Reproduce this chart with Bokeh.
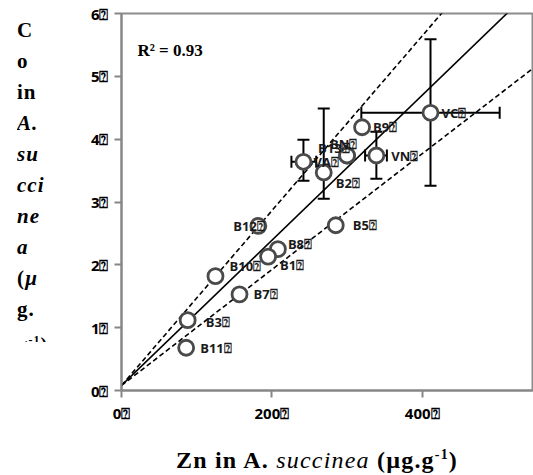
import numpy as np
from bokeh.plotting import figure
from bokeh.layouts import row, column
from bokeh.models import ColumnDataSource, Whisker, TeeHead, Label, FixedTicker, Range1d, Div
from bokeh.core.properties import value
from bokeh.embed import file_html
from bokeh.resources import INLINE

# ---------------- data ----------------
samples = ["VC", "B9", "VN", "BN", "B13", "VA", "B2", "B12", "B5", "B8", "B1", "B10", "B7", "B3", "B11"]
zn = [411, 320, 339, 300, 300, 242, 269, 182, 285, 208, 195, 125, 157, 88, 86]
co = [4.42, 4.19, 3.74, 3.74, 3.74, 3.64, 3.47, 2.62, 2.63, 2.25, 2.13, 1.82, 1.53, 1.12, 0.68]

# error bars (Co, vertical)
yerr_samples = ["VC", "VN", "VA", "B2"]
yerr_low = [3.26, 3.37, 3.34, 3.05]
yerr_high = [5.59, 4.12, 3.99, 4.49]
# error bars (Zn, horizontal)
xerr_samples = ["VC", "VN", "VA"]
xerr_low = [319, 324, 226]
xerr_high = [503, 353, 259]

# regression line and bounds: Co = intercept + slope * Zn
fit_intercept = 0.08
fit_slope = 0.01155
upper_slope = 0.01391
lower_slope = 0.00922
r2_text = "R² = 0.93"

x_ticks = [0, 200, 400]
y_ticks = [0, 1, 2, 3, 4, 5, 6]
tick_suffix = "\u2370"

x_title_html = ("Zn in A. <i style='font-weight:normal'>succinea</i> (&micro;g.g<sup style='font-size:14px'>-1</sup>)")
y_title_lines = ["C", "o", "in", "<i>A.</i>", "<i>su</i>", "<i>cci</i>", "<i>ne</i>", "<i>a</i>",
                 "(<i>&micro;</i>", "g.", "g<sup style='font-size:12px'>-1</sup>)"]

# label offsets in screen px (layout only)
label_dx = [11, 11, 15, -17, -29, 10, 12, -25, 17, 10, 12, 14, 14, 18, 14]
label_dy = [0, 0, 0, -12, -8, 0, 11, 0, 0, -5, 8, -10, 0, 2, 0]

# ---------------- layout ----------------
YW = 60                      # width of y-title column
FL, FT, FW, FH = 121 - YW, 13, 412, 377
PH = 430                     # plot height
XMAX, YMAX = 548, 6.0

p = figure(frame_width=FW, frame_height=FH, min_border_left=FL, min_border_top=FT,
           min_border_bottom=PH - FT - FH, min_border_right=0,
           x_range=Range1d(0, XMAX), y_range=Range1d(0, YMAX),
           output_backend="svg", toolbar_location=None)
p.background_fill_color = "white"
p.border_fill_color = "white"
p.outline_line_color = "#8c8c8c"
p.outline_line_width = 2
p.xgrid.visible = False
p.ygrid.visible = False

for ax in (p.xaxis[0], p.yaxis[0]):
    ax.axis_line_color = "#868686"
    ax.axis_line_width = 2
    ax.major_tick_line_color = "#868686"
    ax.major_tick_line_width = 2
    ax.major_tick_in = 0
    ax.major_tick_out = 7
    ax.minor_tick_line_color = None
    ax.major_label_text_font = "Open Sans"
    ax.major_label_text_font_style = "bold"
    ax.major_label_text_font_size = "15px"
    ax.major_label_text_color = "black"

p.xaxis.ticker = FixedTicker(ticks=x_ticks)
p.yaxis.ticker = FixedTicker(ticks=y_ticks)
p.xaxis.major_label_overrides = {t: f"{t}{tick_suffix}" for t in x_ticks}
p.yaxis.major_label_overrides = {t: f"{t}{tick_suffix}" for t in y_ticks}
p.xaxis.major_label_standoff = 5
p.yaxis.major_label_standoff = 6

# fit lines
xs = np.array([0.0, XMAX])
p.line(xs, fit_intercept + fit_slope * xs, line_color="black", line_width=1.6)
p.line(xs, fit_intercept + upper_slope * xs, line_color="black", line_width=1.6, line_dash="5 3")
p.line(xs, fit_intercept + lower_slope * xs, line_color="black", line_width=1.6, line_dash="5 3")

lookup = dict(zip(samples, zip(zn, co)))
ysrc = ColumnDataSource(dict(x=[lookup[s][0] for s in yerr_samples], lo=yerr_low, hi=yerr_high))
xsrc = ColumnDataSource(dict(y=[lookup[s][1] for s in xerr_samples], lo=xerr_low, hi=xerr_high))
for src_, base, dim in ((ysrc, "x", "height"), (xsrc, "y", "width")):
    p.add_layout(Whisker(source=src_, base=base, lower="lo", upper="hi", dimension=dim,
                         line_color="black", line_width=2,
                         upper_head=TeeHead(size=12, line_width=2, line_color="black"),
                         lower_head=TeeHead(size=12, line_width=2, line_color="black")))

src = ColumnDataSource(dict(x=zn, y=co, name=samples,
                            lab=[s + tick_suffix for s in samples], dx=label_dx, dy=label_dy))
p.scatter("x", "y", source=src, size=15, fill_color="white", line_color="#4a4a4a", line_width=2.8)
p.text("x", "y", text="lab", source=src, x_offset="dx", y_offset="dy",
       text_font=value("Open Sans"), text_font_style="bold", text_font_size="13px",
       text_color="#1a1a1a", text_baseline="middle", text_align="left")

def px2x(px):
    return (px - YW - FL) * XMAX / FW

def py2y(py):
    return (FT + FH - py) * YMAX / FH

p.add_layout(Label(x=px2x(137), y=py2y(50), text=r2_text, text_font="Liberation Serif",
                   text_font_style="bold", text_font_size="17px", text_baseline="alphabetic",
                   text_color="black"))

serif = "font-family:'Liberation Serif',serif;font-weight:bold;color:black;"
xdiv = Div(text=f"<div style=\"{serif}font-size:24px;line-height:25px;letter-spacing:1.2px;white-space:nowrap;"
                f"padding-top:12px;padding-left:116px;\">{x_title_html}</div>",
           width=533 - YW, height=475 - PH, margin=(0, 0, 0, 0))
ydiv = Div(text=f"<div style=\"{serif}font-size:21px;line-height:31px;letter-spacing:1px;"
                f"padding-top:15px;padding-left:17px;\">"
                f"<div style='height:327px;overflow:hidden;'>" + "<br>".join(y_title_lines) + "</div></div>",
           width=YW, height=475, margin=(0, 0, 0, 0))

layout = row(ydiv, column(p, xdiv, spacing=0), spacing=0)
open("out.html", "w").write(file_html(layout, INLINE))
